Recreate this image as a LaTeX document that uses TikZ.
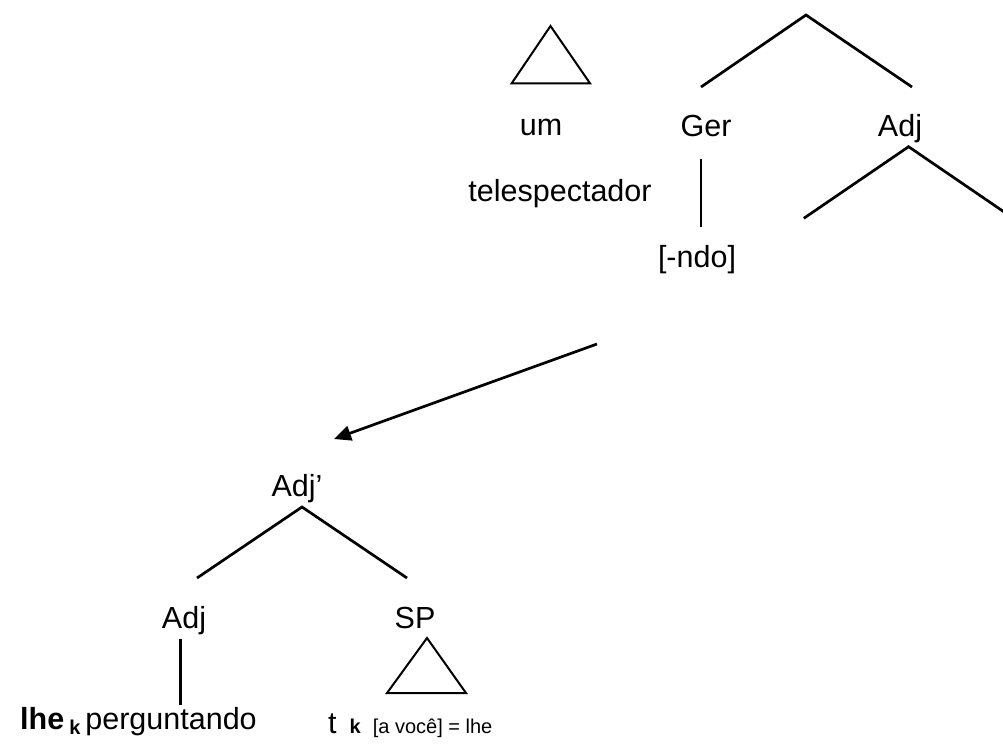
\documentclass[tikz,border=0pt]{standalone}
\usepackage{fontspec}
\setmainfont{Liberation Sans}
\usetikzlibrary{arrows.meta}
\newcommand{\bigsz}{\fontsize{30.5}{36}\selectfont}
\newcommand{\smallsz}{\fontsize{20}{23}\selectfont}

\begin{document}
\begin{tikzpicture}[x=1pt,y=-1pt,
  lbl/.style={anchor=base,inner sep=0pt,font=\bigsz},
  leaf/.style={anchor=base west,inner sep=0pt,font=\bigsz},
  branch/.style={line width=2.7pt,line cap=butt,line join=miter},
  tri/.style={line width=2pt,line join=miter},
  move/.style={line width=2.7pt,-{Triangle[length=17pt,width=15pt]}}]
\useasboundingbox (0,0) rectangle (1003,744);

% category labels
\node[lbl] (um)     at (541,135) {um};
\node[lbl] (ger)    at (706,136) {Ger};
\node[lbl] (adjtop) at (900,136) {Adj};
\node[lbl] (tele)   at (560,201) {telespectador};
\node[lbl] (ndo)    at (697,267) {[-ndo]};
\node[lbl] (adjbar) at (297,496) {Adj’};
\node[lbl] (adjlow) at (184,628) {Adj};
\node[lbl] (sp)     at (415,628) {SP};

% terminal strings
\node[leaf] (lhe)   at (20,729)
  {\textbf{lhe}\hspace{5pt}\raisebox{-5pt}{\smallsz\textbf{k}}\hspace{5pt}perguntando};
\node[leaf] (trace) at (328,733)
  {t\hspace{13pt}{\smallsz\textbf{k}\hspace{12pt}[a você] = lhe}};

% branch points
\coordinate (peak)   at (806,15);
\coordinate (peakL)  at (701,87);
\coordinate (peakR)  at (912,87);
\coordinate (gerA)   at (701,159);
\coordinate (gerB)   at (701,227);
\coordinate (adjA)   at (908.6,146.7);
\coordinate (adjL)   at (803.8,218.3);
\coordinate (adjR)   at (1013.4,218.3);
\coordinate (mvA)    at (597,344);
\coordinate (mvB)    at (334,439);
\coordinate (barA)   at (302,507);
\coordinate (barL)   at (197,578);
\coordinate (barR)   at (407,578);
\coordinate (lowA)   at (180.7,639);
\coordinate (lowB)   at (180.7,705);

% branches
\draw[branch] (peakL) -- (peak) -- (peakR);
\draw[branch] (gerA) -- (gerB);
\draw[branch] (adjL) -- (adjA) -- (adjR);
\draw[branch] (barL) -- (barA) -- (barR);
\draw[branch] (lowA) -- (lowB);

% movement arrow
\draw[move] (mvA) -- (mvB);

% abbreviation triangles
\draw[tri] (550.5,26) -- (511.7,83.3) -- (590,83.3) -- cycle;
\draw[tri] (427,638) -- (387,693) -- (466,693) -- cycle;
\end{tikzpicture}
\end{document}
